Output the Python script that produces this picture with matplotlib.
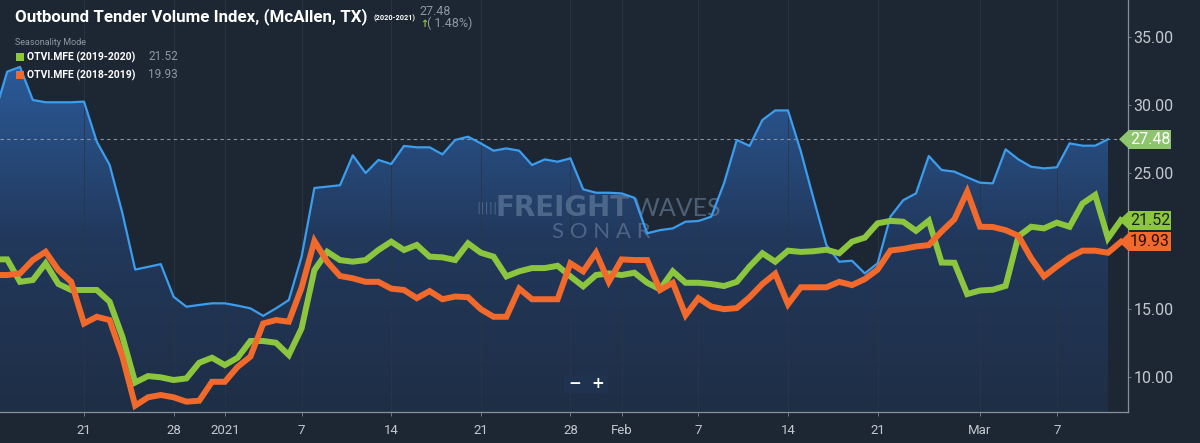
import matplotlib
matplotlib.use("Agg")
import matplotlib.pyplot as plt
import matplotlib.dates as mdates
from matplotlib.colors import LinearSegmentedColormap
from matplotlib.patches import Polygon, Rectangle, FancyBboxPatch
import numpy as np
import pandas as pd

# ---- data ----
otvi_dates = pd.date_range("2020-12-14", "2021-03-11", freq="D")
otvi_2020_2021 = [
    29.3, 32.45, 32.8, 30.37, 30.2, 30.2, 30.2, 30.25, 27.3, 25.6, 22.05, 17.9, 18.1, 18.3,
    15.9, 15.17, 15.3, 15.42,
    15.42, 15.25, 15.05, 14.5, 15.05, 15.66, 18.85, 23.9, 24.0, 24.1, 26.3, 25.0, 25.96, 25.66,
    26.99, 26.89, 26.89, 26.37, 27.43, 27.67, 27.18, 26.64, 26.81, 26.64, 25.59, 26.0, 25.83,
    26.08, 23.8, 23.55, 23.55,
    23.5, 23.18, 20.57, 20.8, 20.93, 21.42, 21.47, 21.79, 24.24, 27.43, 26.99, 28.9, 29.6, 29.6,
    26.6, 23.1, 19.7, 18.48, 18.55, 17.62, 18.36, 21.79, 23.0, 23.5, 26.25, 25.22, 25.1, 24.68,
    24.29, 24.24, 26.74, 26.0, 25.46, 25.34, 25.42, 27.18, 27.01, 27.01, 27.48,
]

season_dates = pd.date_range("2020-12-14", "2021-03-12", freq="D")
otvi_2019_2020 = [
    18.65, 18.65, 17.0, 17.13, 18.36, 16.84, 16.4, 16.4, 16.4, 15.54, 12.96, 9.6, 10.07, 9.98,
    9.78, 9.9, 11.05, 11.42,
    10.88, 11.42, 12.65, 12.65, 12.52, 11.62, 13.58, 17.86, 19.21, 18.6, 18.48, 18.6, 19.34, 19.95,
    19.34, 19.71, 18.85, 18.8, 18.6, 19.83, 19.14, 18.85, 17.4, 17.77, 18.01, 18.01, 18.18,
    17.4, 16.67, 17.5, 17.62,
    17.5, 17.67, 16.93, 16.45, 17.77, 16.93, 16.93, 16.84, 16.69, 17.0, 18.13, 19.1, 18.48, 19.29,
    19.2, 19.25, 19.36, 19.1, 19.95, 20.25, 21.3, 21.48, 21.42, 20.75, 21.5, 18.42, 18.4, 16.1,
    16.36, 16.42, 16.7, 20.35, 21.05, 20.93, 21.35, 21.05, 22.75, 23.39, 20.2, 21.52,
]
otvi_2018_2019 = [
    17.5, 17.5, 17.62, 18.6, 19.21, 17.86, 17.0, 13.94, 14.43, 14.19, 11.5, 7.9, 8.51, 8.68,
    8.51, 8.19, 8.26, 9.65,
    9.65, 10.75, 11.5, 13.94, 14.19, 14.07, 16.57, 20.0, 18.48, 17.43, 17.26, 17.0, 17.0, 16.5,
    16.4, 15.8, 16.32, 15.72, 15.92, 15.87, 14.99, 14.43, 14.43, 16.5, 15.72, 15.72, 15.72,
    18.36, 17.77, 19.14, 17.0,
    18.65, 18.6, 18.6, 16.4, 16.93, 14.55, 15.8, 15.18, 14.99, 15.07, 15.87, 16.84, 17.6, 15.35,
    16.6, 16.6, 16.6, 17.0, 16.76, 17.2, 17.9, 19.3, 19.42, 19.6, 19.7, 20.7, 21.6, 23.63,
    21.05, 21.03, 20.8, 20.38, 18.73, 17.4, 18.13, 18.8, 19.29, 19.29, 19.14, 19.93,
]

tick_dates = ["2020-12-21", "2020-12-28", "2021-01-01", "2021-01-07", "2021-01-14",
              "2021-01-21", "2021-01-28", "2021-02-01", "2021-02-07", "2021-02-14",
              "2021-02-21", "2021-03-01", "2021-03-07"]
tick_labels = ["21", "28", "2021", "7", "14", "21", "28", "Feb", "7", "14", "21", "Mar", "7"]
y_ticks = [10, 15, 20, 25, 30, 35]
y_tick_labels = ["10.00", "15.00", "", "25.00", "30.00", "35.00"]  # 20.00 sits under the tags

last_value = 27.48
last_change = "( 1.48%)"

# ---- colours ----
bg = "#1d2734"
blue = "#3c9ded"
green = "#8cc63f"
orange = "#f26a2b"
grey_txt = "#c3c8ce"
dim_txt = "#8d96a1"
mark_col = "#7890ae"

W, H = 1200, 443


def fx(px):
    return px / W


def fy(py):
    return 1 - py / H


fig = plt.figure(figsize=(12, 4.43), dpi=100, facecolor=bg)
ax = fig.add_axes([0, fy(412), 1128 / W, 412 / H], facecolor=bg)

y_bot, y_top = 7.43, 37.72
x_left = pd.Timestamp("2020-12-14") + pd.Timedelta(hours=10.5)
x_right = pd.Timestamp("2021-03-12") + pd.Timedelta(hours=13.5)

# gradient area under the current-year line
fill = ax.fill_between(otvi_dates, otvi_2020_2021, y_bot, color="none", lw=0)
cmap = LinearSegmentedColormap.from_list("otvi_fill", ["#1e2e45", "#22395d", "#2b5c9c"])
grad = np.linspace(0, 1, 256).reshape(-1, 1)
img = ax.imshow(grad, cmap=cmap, origin="lower", aspect="auto", zorder=1,
                extent=[mdates.date2num(otvi_dates[0]), mdates.date2num(otvi_dates[-1]),
                        y_bot, 33.5])
img.set_clip_path(fill.get_paths()[0], transform=ax.transData)

ax.plot(otvi_dates, otvi_2020_2021, color=blue, lw=1.6, zorder=4)
ax.plot(season_dates, otvi_2019_2020, color=green, lw=4.3, zorder=5, solid_joinstyle="miter")
ax.plot(season_dates, otvi_2018_2019, color=orange, lw=4.3, zorder=6, solid_joinstyle="miter")

ax.axhline(last_value, color="#8a939d", lw=0.8, ls=(0, (3, 3)), zorder=3)

ax.set_xlim(x_left, x_right)
ax.set_ylim(y_bot, y_top)

# axes look
ax.set_xticks(pd.to_datetime(tick_dates))
ax.set_xticklabels(tick_labels)
for lbl, txt in zip(ax.get_xticklabels(), tick_labels):
    if txt == "2021":
        lbl.set_color("white")
ax.set_yticks(y_ticks)
ax.set_yticklabels(y_tick_labels)
ax.yaxis.tick_right()
ax.tick_params(axis="x", colors=grey_txt, labelsize=9.5, length=3, pad=6, width=0.6,
               color="#7d8590")
ax.tick_params(axis="y", colors=grey_txt, labelsize=11.5, length=2.5, pad=1.5, width=0.6,
               color="#7d8590")
for lbl in ax.get_xticklabels() + ax.get_yticklabels():
    lbl.set_family("Roboto")
ax.grid(axis="x", color="#2a3646", lw=0.6, zorder=1.5)
for side in ["top", "left"]:
    ax.spines[side].set_visible(False)
for side in ["bottom", "right"]:
    ax.spines[side].set_color("#8a9098")
    ax.spines[side].set_linewidth(0.9)

# value tags on the right axis
tr = ax.get_yaxis_transform()
tags = [(last_value, "#8fc46f", "white"),
        (otvi_2019_2020[-1], green, "#162010"),
        (otvi_2018_2019[-1], orange, "#2a0e04")]
for val, fc, tc in tags:
    ax.add_patch(Polygon([(1 - 9 / 1128, val), (1 + 1 / 1128, val + 9.5 / 13.6),
                          (1 + 1 / 1128, val - 9.5 / 13.6)],
                         closed=True, transform=tr, fc=fc, ec="none", clip_on=False, zorder=8))
    ax.add_patch(Rectangle((1.0, val - 9.5 / 13.6), 43 / 1128, 19 / 13.6, transform=tr,
                           fc=fc, ec="none", clip_on=False, zorder=8))
    ax.text(1 + 2 / 1128, val, f"{val:.2f}", transform=tr, ha="left", va="center",
            color=tc, fontsize=11.5, family="Roboto", zorder=9, clip_on=False)

# watermark
ax.text(fx(476), fy(208), "|||||", transform=fig.transFigure, color=mark_col, alpha=0.5,
        fontsize=9, ha="left", va="center", zorder=2)
ax.text(fx(496), fy(208), "FREIGHT", transform=fig.transFigure, color=mark_col, alpha=0.5,
        fontsize=20, fontweight="heavy", family="DejaVu Sans", ha="left", va="center", zorder=2)
ax.text(fx(634), fy(208), "WAVES", transform=fig.transFigure, color=mark_col, alpha=0.55,
        fontsize=18, fontweight="normal", family="Lato", ha="left", va="center", zorder=2)
ax.text(fx(601), fy(232), "S O N A R", transform=fig.transFigure, color=mark_col, alpha=0.5,
        fontsize=16, fontweight="normal", family="Lato", ha="center", va="center", zorder=2)

# zoom buttons
fig.patches.append(FancyBboxPatch((fx(564), fy(393)), fx(44), 18 / H,
                                  boxstyle="round,pad=0,rounding_size=0.002",
                                  transform=fig.transFigure, fc="#1f3350", ec="none"))
fig.text(fx(575), fy(384), "\u2212", color="white", fontsize=11, fontweight="bold",
         ha="center", va="center")
fig.text(fx(598), fy(384), "+", color="white", fontsize=11, fontweight="bold",
         ha="center", va="center")

# header
fig.text(fx(15), fy(21), "Outbound Tender Volume Index, (McAllen, TX)", color="white",
         fontsize=12.2, fontweight="bold", family="Roboto", va="baseline")
fig.text(fx(373), fy(20), "(2020-2021)", color="white", fontsize=5.2, fontweight="bold",
         family="Roboto", va="baseline")
fig.text(fx(419), fy(15), f"{last_value:.2f}", color=dim_txt, fontsize=9, family="Roboto",
         va="baseline")
fig.text(fx(420), fy(27), "\u2191", color=green, fontsize=7, fontweight="bold",
         family="DejaVu Sans", va="baseline")
fig.text(fx(427), fy(27), last_change, color=dim_txt, fontsize=9, family="Roboto",
         va="baseline")

fig.text(fx(15), fy(45), "Seasonality Mode", color=dim_txt, fontsize=6.5, family="Roboto",
         va="baseline")
legend_rows = [("OTVI.MFE (2019-2020)", green, otvi_2019_2020[-1], 57),
               ("OTVI.MFE (2018-2019)", orange, otvi_2018_2019[-1], 75)]
for name, col, val, yc in legend_rows:
    fig.patches.append(Rectangle((fx(16), fy(yc + 4)), fx(8), 8 / H,
                                 transform=fig.transFigure, fc=col, ec="none"))
    fig.text(fx(27), fy(yc), name, color="white", fontsize=7.5, fontweight="bold",
             family="Roboto", va="center")
    fig.text(fx(148), fy(yc), f"{val:.2f}", color=dim_txt, fontsize=8.5, family="Roboto",
             va="center")

fig.savefig("out.png", dpi=100, facecolor=bg)
